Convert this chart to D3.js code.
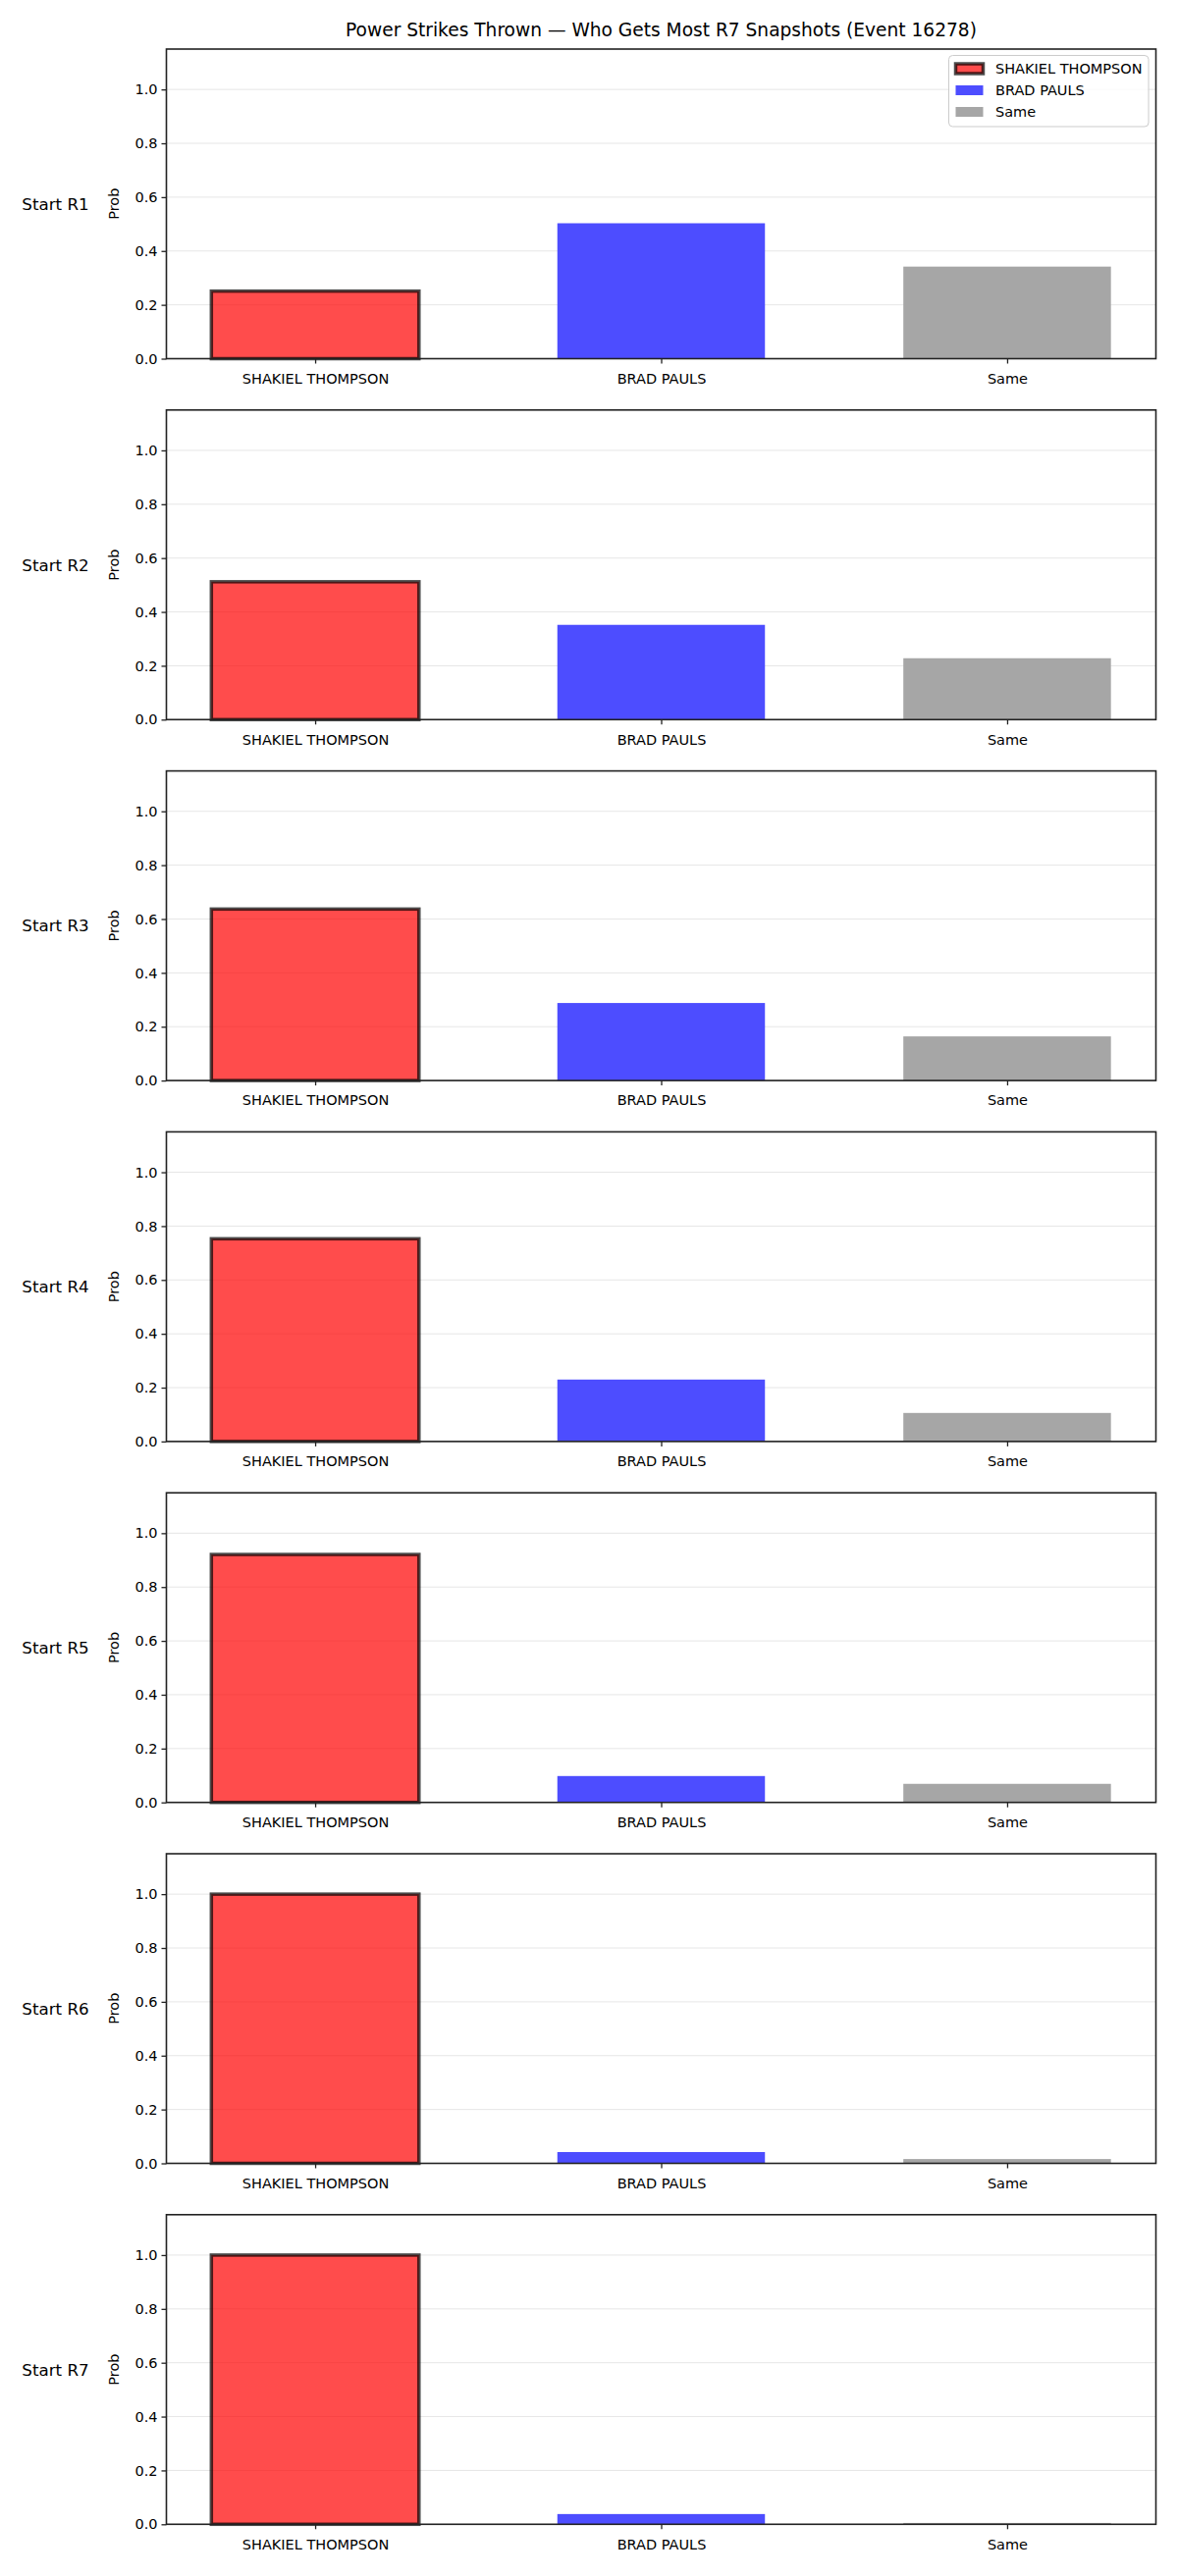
<!DOCTYPE html>
<html>
<head>
<meta charset="utf-8">
<script src="https://cdn.jsdelivr.net/npm/d3@7"></script>
<style>
  html, body { margin: 0; padding: 0; background: #fff; }
  svg { display: block; font-family: "DejaVu Sans", sans-serif; }
</style>
</head>
<body>
<script>
// ---- data ----
const categories = ["SHAKIEL THOMPSON", "BRAD PAULS", "Same"];
const rounds = ["Start R1", "Start R2", "Start R3", "Start R4", "Start R5", "Start R6", "Start R7"];
const shakielProb = [0.251, 0.512, 0.637, 0.753, 0.921, 1.0, 1.0];
const bradProb    = [0.503, 0.352, 0.288, 0.230, 0.098, 0.042, 0.038];
const sameProb    = [0.342, 0.228, 0.164, 0.106, 0.069, 0.016, 0.005];
const yTicks = [0, 0.2, 0.4, 0.6, 0.8, 1.0];
const titleText = "Power Strikes Thrown \u2014 Who Gets Most R7 Snapshots (Event 16278)";
const yLabel = "Prob";

// ---- layout ----
const W = 1200, H = 2625;
const left = 169.5, right = 1177.5;
const firstTop = 50, panelH = 315.5, step = 367.8;
const fills = ["#ff4d4d", "#4d4dff", "#a6a6a6"];
const tickFont = 14.5;

const svg = d3.select("body").append("svg").attr("width", W).attr("height", H);
svg.append("rect").attr("width", W).attr("height", H).attr("fill", "#fff");

svg.append("text").attr("x", (left + right) / 2).attr("y", 37)
  .attr("text-anchor", "middle").attr("font-size", 18.6).attr("fill", "#000")
  .text(titleText);

const x = d3.scaleLinear().domain([-0.43, 2.43]).range([left, right]);
const barW = x(0.6) - x(0);

rounds.forEach((rLabel, i) => {
  const top = firstTop + i * step, bottom = top + panelH;
  const y = d3.scaleLinear().domain([0, 1.15]).range([bottom, top]);
  const g = svg.append("g");
  const vals = [shakielProb[i], bradProb[i], sameProb[i]];

  // grid
  g.selectAll(".grid").data(yTicks).enter().append("line")
    .attr("x1", left).attr("x2", right)
    .attr("y1", d => y(d)).attr("y2", d => y(d))
    .attr("stroke", "#e6e6e6").attr("stroke-width", 1);

  // bars
  vals.forEach((v, j) => {
    const bx = x(j) - barW / 2, by = y(v), bh = y(0) - y(v);
    if (j === 0) {
      g.append("rect").attr("x", bx).attr("y", by).attr("width", barW).attr("height", bh)
        .attr("fill", "#ff0000").attr("fill-opacity", 0.7)
        .attr("stroke", "#000").attr("stroke-opacity", 0.7).attr("stroke-width", 3.5);
    } else {
      g.append("rect").attr("x", bx).attr("y", by).attr("width", barW).attr("height", bh)
        .attr("fill", fills[j]);
    }
  });

  // y axis
  const yAxis = d3.axisLeft(y).tickValues(yTicks).tickFormat(d3.format(".1f")).tickSize(5).tickPadding(4);
  const ya = g.append("g").attr("transform", `translate(${left},0)`).call(yAxis);
  ya.select(".domain").remove();
  ya.selectAll("line").attr("stroke", "#222").attr("stroke-width", 1.3);
  ya.selectAll("text").attr("font-size", tickFont).attr("fill", "#000").attr("font-family", "DejaVu Sans");

  // x axis
  const xAxis = d3.axisBottom(x).tickValues([0, 1, 2]).tickFormat(d => categories[d]).tickSize(5).tickPadding(10);
  const xa = g.append("g").attr("transform", `translate(0,${bottom})`).call(xAxis);
  xa.select(".domain").remove();
  xa.selectAll("line").attr("stroke", "#222").attr("stroke-width", 1.3);
  xa.selectAll("text").attr("font-size", tickFont).attr("fill", "#000").attr("font-family", "DejaVu Sans");

  // frame
  g.append("rect").attr("x", left).attr("y", top).attr("width", right - left).attr("height", panelH)
    .attr("fill", "none").attr("stroke", "#222").attr("stroke-width", 1.6);

  // y label
  g.append("text").attr("transform", `translate(121,${(top + bottom) / 2}) rotate(-90)`)
    .attr("text-anchor", "middle").attr("font-size", tickFont).attr("fill", "#000").text(yLabel);

  // row label
  g.append("text").attr("x", 56.5).attr("y", (top + bottom) / 2 + 6)
    .attr("text-anchor", "middle").attr("font-size", 16.7).attr("fill", "#000").text(rLabel);

  // legend (first panel only)
  if (i === 0) {
    const lg = g.append("g");
    lg.append("rect").attr("x", 966.5).attr("y", 56.5).attr("width", 203.5).attr("height", 72.5)
      .attr("rx", 4).attr("fill", "#fff").attr("fill-opacity", 0.8)
      .attr("stroke", "#cccccc").attr("stroke-width", 1);
    const rowsY = [70, 92, 114];
    categories.forEach((c, j) => {
      const py = rowsY[j];
      if (j === 0) {
        lg.append("rect").attr("x", 973.5).attr("y", py - 5).attr("width", 28).attr("height", 10)
          .attr("fill", "#ff0000").attr("fill-opacity", 0.7)
          .attr("stroke", "#000").attr("stroke-opacity", 0.7).attr("stroke-width", 3.5);
      } else {
        lg.append("rect").attr("x", 973.5).attr("y", py - 5).attr("width", 28).attr("height", 10)
          .attr("fill", fills[j]);
      }
      lg.append("text").attr("x", 1014).attr("y", py + 5).attr("font-size", tickFont).attr("fill", "#000").text(c);
    });
  }
});
</script>
</body>
</html>
